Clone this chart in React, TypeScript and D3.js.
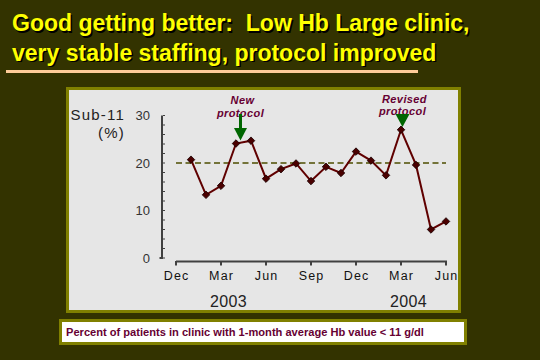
import React from 'react';
import * as d3 from 'd3';

// months counted from Dec 2002 (= 0)
const pointMonths = d3.range(1, 19);
const sub11 = [20.7, 13.3, 15.2, 24.1, 24.7, 16.7, 18.7, 19.9, 16.2, 19.2, 17.9, 22.4, 20.5, 17.4, 27.0, 19.6, 6.0, 7.7];
const tickMonths = [0, 3, 6, 9, 12, 15, 18];
const tickLabels = ['Dec', 'Mar', 'Jun', 'Sep', 'Dec', 'Mar', 'Jun'];
const yTicks = [0, 10, 20, 30];
const years = ['2003', '2004'];
const yearPos = [3.5, 15.5];
const target = 20;
const notes = [
  { lines: ['New', 'protocol'], at: 4.3 },
  { lines: ['Revised', 'protocol'], at: 15.1 },
];

const titleLines = ['Good getting better:  Low Hb Large clinic,', 'very stable staffing, protocol improved'];
const caption = 'Percent of patients in clinic with 1-month average Hb value < 11 g/dl';

export default function App() {
  const x = d3.scaleLinear().domain([0, 18]).range([176, 446]);
  const y = d3.scaleLinear().domain([0, 30]).range([258, 115.5]);

  const line = d3.line<number>()
    .x((_, i) => x(pointMonths[i]))
    .y(d => y(d));

  const marker = d3.symbol(d3.symbolSquare, 28)();
  const font = 'Liberation Sans, Arial, sans-serif';

  return (
    <svg width={540} height={360} style={{ position: 'absolute', left: 0, top: 0 }} fontFamily={font}>
      <rect width={540} height={360} fill="#333300" />

      {/* title with drop shadow */}
      {titleLines.map((t, i) => (
        <g key={i} fontSize={23} fontWeight="bold">
          <text x={13.5} y={32.5 + i * 29.5} fill="#000" style={{ whiteSpace: 'pre' }}>{t}</text>
          <text x={12} y={31 + i * 29.5} fill="#ffff00" style={{ whiteSpace: 'pre' }}>{t}</text>
        </g>
      ))}
      <rect x={6} y={70} width={412} height={3} fill="#ffcc99" />

      {/* chart panel */}
      <rect x={67.5} y={88.5} width={392} height={223} fill="#e6e6e6" stroke="#808000" strokeWidth={3} />

      {/* y axis */}
      <line x1={162} x2={162} y1={y(0)} y2={y(30)} stroke="#404040" strokeWidth={2} />
      {d3.range(0, 31, 2).map(v => (
        <line key={v} x1={163} x2={165} y1={y(v)} y2={y(v)} stroke="#404040" strokeWidth={1} />
      ))}
      <line x1={159.5} x2={163} y1={y(0)} y2={y(0)} stroke="#404040" strokeWidth={2} />
      {yTicks.map(v => (
        <text key={v} x={150} y={y(v) + 4.5} textAnchor="end" fontSize={13} fill="#333">{v}</text>
      ))}
      <text x={125} y={120} textAnchor="end" fontSize={15} letterSpacing={1.2} fill="#222">Sub-11</text>
      <text x={125} y={138} textAnchor="end" fontSize={15} letterSpacing={1.2} fill="#222">(%)</text>

      {/* x axis */}
      <line x1={x(0)} x2={x(18) + 1} y1={261.5} y2={261.5} stroke="#404040" strokeWidth={2} />
      {tickMonths.map((m, i) => (
        <g key={i}>
          <line x1={x(m)} x2={x(m)} y1={261} y2={265.5} stroke="#404040" strokeWidth={2} />
          <text x={x(m) + 0.6} y={280} textAnchor="middle" fontSize={12.5} letterSpacing={1.2} fill="#111">{tickLabels[i]}</text>
        </g>
      ))}
      {years.map((yr, i) => (
        <text key={yr} x={x(yearPos[i])} y={306.5} textAnchor="middle" fontSize={16} letterSpacing={0.4} fill="#222">{yr}</text>
      ))}

      {/* target line */}
      <line x1={x(0)} x2={x(18)} y1={y(target)} y2={y(target)} stroke="#4d4d00" strokeWidth={1.5} strokeDasharray="6,3.5" />

      {/* series */}
      <path d={line(sub11) ?? ''} fill="none" stroke="#600000" strokeWidth={2} />
      {sub11.map((v, i) => (
        <path key={i} d={marker} transform={`translate(${x(pointMonths[i])},${y(v)}) rotate(45)`}
          fill="#4a0000" stroke="#1a0000" strokeWidth={0.8} />
      ))}

      {/* annotations */}
      {notes.map((n, i) => {
        const cx = x(n.at);
        return (
          <g key={i} fontSize={11} fontWeight="bold" fontStyle="italic" fill="#660033" letterSpacing={0.4}>
            <text x={cx + 2} y={i === 0 ? 104 : 102.5} textAnchor="middle">{n.lines[0]}</text>
            <text x={cx} y={i === 0 ? 116.5 : 115} textAnchor="middle">{n.lines[1]}</text>
            {i === 0 && <rect x={cx - 1.5} y={114} width={3} height={15} fill="#006600" />}
            <path d={i === 0
              ? `M${cx - 6.5},128 L${cx + 6.5},128 L${cx},140.5 Z`
              : `M${cx - 7},114 L${cx + 7},114 L${cx},127 Z`} fill="#006600" />
          </g>
        );
      })}

      {/* caption */}
      <rect x={60.5} y={320.5} width={405} height={23} fill="#ffffff" stroke="#808000" strokeWidth={3} />
      <text x={66} y={336} fontSize={11.1} fontWeight="bold" fill="#660033">{caption}</text>
    </svg>
  );
}
